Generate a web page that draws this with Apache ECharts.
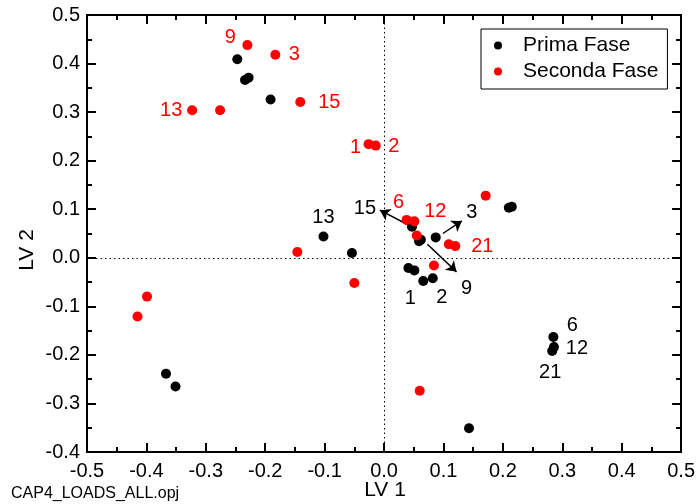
<!DOCTYPE html>
<html><head><meta charset="utf-8">
<script src="https://cdn.jsdelivr.net/npm/echarts@6/dist/echarts.min.js"></script>
<style>html,body{margin:0;padding:0;background:#fff}#c{width:698px;height:504px}</style>
</head><body><div id="c"></div>
<script>
// ---- data ----
const primaX = [-0.247, -0.234, -0.228, -0.191, -0.102, -0.054, 0.047, 0.059, 0.062, 0.087, 0.041, 0.051, 0.066, 0.082, 0.210, 0.215, -0.367, -0.351, 0.285, 0.286, 0.283, 0.143];
const primaY = [0.409, 0.366, 0.371, 0.326, 0.044, 0.010, 0.064, 0.034, 0.037, 0.042, -0.021, -0.026, -0.048, -0.042, 0.103, 0.105, -0.239, -0.265, -0.163, -0.184, -0.192, -0.351];
const primaLabels = ['', '', '', '', '13', '', '', '', '', '', '1', '', '', '2', '', '', '', '', '6', '12', '21', ''];

const secondaX = [-0.230, -0.183, -0.323, -0.276, -0.141, -0.026, -0.014, -0.146, 0.171, 0.038, 0.051, 0.055, 0.109, 0.120, 0.084, -0.050, -0.399, -0.415, 0.060];
const secondaY = [0.438, 0.418, 0.304, 0.304, 0.321, 0.234, 0.231, 0.012, 0.128, 0.078, 0.075, 0.046, 0.028, 0.024, -0.016, -0.052, -0.080, -0.121, -0.274];
const secondaLabels = ['9', '3', '13', '', '15', '1', '2', '', '', '6', '12', '', '', '21', '', '', '', '', ''];

const arrowNames = ['15', '3', '9'];
const arrowFromX = [0.045, 0.099, 0.073];
const arrowFromY = [0.065, 0.050, 0.028];
const arrowToX = [-0.007, 0.131, 0.122];
const arrowToY = [0.098, 0.076, -0.029];

const seriesNames = ['Prima Fase', 'Seconda Fase'];
const xLabelTitle = 'LV 1';
const yLabelTitle = 'LV 2';
const fileName = 'CAP4_LOADS_ALL.opj';

// ---- label placement (pixel offsets, style only) ----
const labelOffsets = {
  'P13': [0, -19], 'P1': [2, 31], 'P2': [9, 19], 'P6': [19, -11], 'P12': [23, 1], 'P21': [-2, 21],
  'S9': [-17, -8], 'S3': [19, 0], 'S13': [-21, 0], 'S15': [29, 1], 'S1': [-13, 3], 'S2': [18, 1],
  'S6': [-8, -17], 'S12': [21, -10], 'S21': [27, 0],
  'A15': [-15, -2], 'A3': [10, -8], 'A9': [10, 17]
};

const FONT = '"Liberation Sans", Arial, sans-serif';
const RED = '#ff0000', BLACK = '#000000';

function makePoints(xs, ys, labels, key, color) {
  return xs.map((x, i) => {
    const item = { value: [x, ys[i]] };
    if (labels[i]) {
      item.label = {
        show: true, position: 'inside', formatter: labels[i],
        offset: labelOffsets[key + labels[i]] || [0, 0],
        color: color, fontSize: 20, fontFamily: FONT
      };
    }
    return item;
  });
}

const fmt = v => Math.abs(v) < 1e-9 ? '0.0' : v.toFixed(1);

function xAx(pos, showLabel) {
  return {
    type: 'value', position: pos, min: -0.5, max: 0.5, interval: 0.1,
    axisLine: { show: true, onZero: false, lineStyle: { color: BLACK, width: 2 } },
    axisTick: { show: true, inside: true, length: 9, lineStyle: { color: BLACK, width: 2 } },
    minorTick: { show: true, splitNumber: 2, length: 5, lineStyle: { color: BLACK, width: 2 } },
    splitLine: { show: false }, minorSplitLine: { show: false },
    axisLabel: { show: showLabel, formatter: fmt, fontSize: 20, fontFamily: FONT, color: BLACK, margin: 9, showMinLabel: true, showMaxLabel: true }
  };
}
function yAx(pos, showLabel) {
  return {
    type: 'value', position: pos, min: -0.4, max: 0.5, interval: 0.1,
    axisLine: { show: true, onZero: false, lineStyle: { color: BLACK, width: 2 } },
    axisTick: { show: true, inside: true, length: 9, lineStyle: { color: BLACK, width: 2 } },
    minorTick: { show: true, splitNumber: 2, length: 5, lineStyle: { color: BLACK, width: 2 } },
    splitLine: { show: false }, minorSplitLine: { show: false },
    axisLabel: { show: showLabel, formatter: fmt, fontSize: 20, fontFamily: FONT, color: BLACK, margin: 7, showMinLabel: true, showMaxLabel: true }
  };
}

const chart = echarts.init(document.getElementById('c'), null, { renderer: 'canvas' });
chart.setOption({
  animation: false,
  backgroundColor: '#fff',
  grid: { left: 87, right: 15, top: 15, bottom: 52, containLabel: false },
  xAxis: [xAx('bottom', true), xAx('top', false)],
  yAxis: [yAx('left', true), yAx('right', false)],
  legend: {
    data: seriesNames, orient: 'vertical', left: 481, top: 29,
    padding: [6, 9, 7, 13], itemGap: 5, itemWidth: 8, itemHeight: 8,
    borderColor: BLACK, borderWidth: 1, icon: 'circle',
    textStyle: { fontSize: 21, fontFamily: FONT, color: BLACK, lineHeight: 21, padding: [0, 0, 0, 16] },
    selectedMode: false
  },
  graphic: [
    { type: 'text', x: 385, y: 490.5, style: { text: xLabelTitle, fontSize: 21, fontFamily: FONT, fill: BLACK, align: 'center', verticalAlign: 'middle' } },
    { type: 'text', x: 27.5, y: 250, rotation: Math.PI / 2, style: { text: yLabelTitle, fontSize: 21, fontFamily: FONT, fill: BLACK, align: 'center', verticalAlign: 'middle' } },
    { type: 'text', x: 11, y: 494, style: { text: fileName, fontSize: 16, fontFamily: FONT, fill: BLACK, align: 'left', verticalAlign: 'middle' } }
  ],
  series: [
    {
      name: 'zero', type: 'scatter', data: [], z: 1, silent: true,
      markLine: {
        silent: true, symbol: ['none', 'none'], animation: false,
        label: { show: false },
        lineStyle: { color: BLACK, width: 1, type: [1.5, 3] },
        emphasis: { disabled: true },
        data: [{ xAxis: 0 }, { yAxis: 0 }]
      }
    },
    {
      name: 'arrows', type: 'lines', coordinateSystem: 'cartesian2d', z: 3,
      symbol: ['none', 'arrow'], symbolSize: [7, 10],
      lineStyle: { color: BLACK, width: 1.5, opacity: 1, curveness: 0 },
      data: arrowNames.map((n, i) => ({ coords: [[arrowFromX[i], arrowFromY[i]], [arrowToX[i], arrowToY[i]]] }))
    },
    {
      name: 'arrowLabels', type: 'scatter', symbolSize: 0, z: 4, silent: true,
      itemStyle: { color: BLACK, opacity: 1 },
      data: arrowNames.map((n, i) => ({
        value: [arrowToX[i], arrowToY[i]],
        label: { show: true, position: 'inside', formatter: n, offset: labelOffsets['A' + n], color: BLACK, opacity: 1, fontSize: 20, fontFamily: FONT }
      }))
    },
    {
      name: seriesNames[0], type: 'scatter', symbol: 'circle', symbolSize: 10, z: 5,
      itemStyle: { color: BLACK, opacity: 1 },
      data: makePoints(primaX, primaY, primaLabels, 'P', BLACK)
    },
    {
      name: seriesNames[1], type: 'scatter', symbol: 'circle', symbolSize: 10, z: 6,
      itemStyle: { color: RED, opacity: 1 },
      data: makePoints(secondaX, secondaY, secondaLabels, 'S', RED)
    }
  ]
});
</script>
</body></html>
